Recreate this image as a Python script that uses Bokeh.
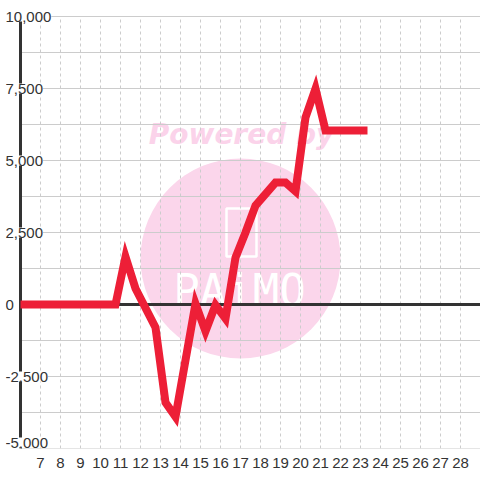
from bokeh.plotting import figure
from bokeh.models import FixedTicker, Label, Range1d
from bokeh.core.properties import value
from bokeh.embed import file_html
from bokeh.resources import INLINE

# ---- data ----
x_vals = [6, 10.75, 11.25, 11.75, 12.75, 13.25, 13.75, 14.75, 15.25, 15.75, 16.25,
          16.75, 17.25, 17.75, 18.75, 19.25, 19.75, 20.25, 20.75, 21.25, 23.35]
y_vals = [0, 0, 1660, 556, -799, -3403, -3900, 30, -930, -20, -490,
          1632, 2500, 3437, 4236, 4236, 3930, 6493, 7490, 6042, 6042]

x_ticks = [7, 8, 9, 10, 11, 12, 13, 14, 15, 16, 17, 18, 19, 20, 21, 22, 23, 24, 25, 26, 27, 28]
y_grid = [-5000, -3750, -2500, -1250, 0, 1250, 2500, 3750, 5000, 6250, 7500, 8750, 10000]
y_label_vals = [-5000, -2500, 0, 2500, 5000, 7500, 10000]
y_label_text = ["-5,000", "-2,500", "0", "2,500", "5,000", "7,500", "10,000"]

x_min, x_max = 6, 29
y_min, y_max = -5000, 10000

wm_x = [17.0]
wm_y = [1597]
pb_x = [17.05]
pb_y = [5903]
logo_x = [17.05]
logo_y = [2500]
name_x = [16.95]
name_y = [486]

FONT = "Liberation Sans"
TXT = "#333333"
GRID = "#cccccc"

p = figure(width=480, height=480, output_backend="svg", toolbar_location=None,
           x_range=Range1d(5.25, x_max), y_range=Range1d(y_min, 10278),
           min_border_left=5, min_border_right=0, min_border_top=8, min_border_bottom=32)
p.background_fill_color = "white"
p.border_fill_color = "white"
p.outline_line_color = None
p.grid.visible = False
p.yaxis.visible = False

# watermark (under grid)
r = p.scatter(wm_x, wm_y, size=200, marker="circle", fill_color="#fbd6eb", line_color=None)
r.level = "image"
r = p.text(pb_x, pb_y, text=["Powered by"], text_font=value("DejaVu Sans"),
           text_font_style="bold italic", text_font_size="28px", text_color="#fbd3ea",
           text_align="center", text_baseline="middle")
r.level = "image"
r = p.rect(logo_x, logo_y, width=30, height=48, width_units="screen", height_units="screen",
           fill_alpha=0, line_color="white", line_width=2.5)
r.level = "image"
r = p.text(name_x, name_y, text=["PAiMO"], text_font=value("DejaVu Sans Mono"),
           text_font_size="44px", text_color="white",
           text_align="center", text_baseline="middle")
r.level = "image"

# grid lines
p.segment(x0=x_ticks, y0=[y_min] * len(x_ticks), x1=x_ticks, y1=[y_max] * len(x_ticks),
          line_color=GRID, line_width=1, line_dash="3 3")
p.segment(x0=[x_min] * len(y_grid), y0=y_grid, x1=[x_max] * len(y_grid), y1=y_grid,
          line_color=GRID, line_width=1)

# x axis
p.xaxis.ticker = FixedTicker(ticks=x_ticks)
p.xaxis.axis_line_color = None
p.xaxis.major_tick_line_color = None
p.xaxis.minor_tick_line_color = None
p.xaxis.major_label_standoff = 3
p.xaxis.major_label_text_font = FONT
p.xaxis.major_label_text_font_size = "15px"
p.xaxis.major_label_text_color = TXT

# axis line and zero line
p.segment(x0=[x_min], y0=[y_min], x1=[x_min], y1=[y_max], line_color=TXT, line_width=3)
p.segment(x0=[x_min], y0=[0], x1=[x_max], y1=[0], line_color=TXT, line_width=3)

p.line(x_vals, y_vals, line_color="#ED1F37", line_width=8, line_join="miter")

for v, t in zip(y_label_vals, y_label_text):
    off = 6 if v == min(y_label_vals) else 0
    p.add_layout(Label(x=x_min, y=v, x_offset=-15, y_offset=off, text=t,
                       text_align="left", text_baseline="middle",
                       text_font=FONT, text_font_size="15px", text_color=TXT,
                       background_fill_color="white"))

open("out.html", "w").write(file_html(p, INLINE))
